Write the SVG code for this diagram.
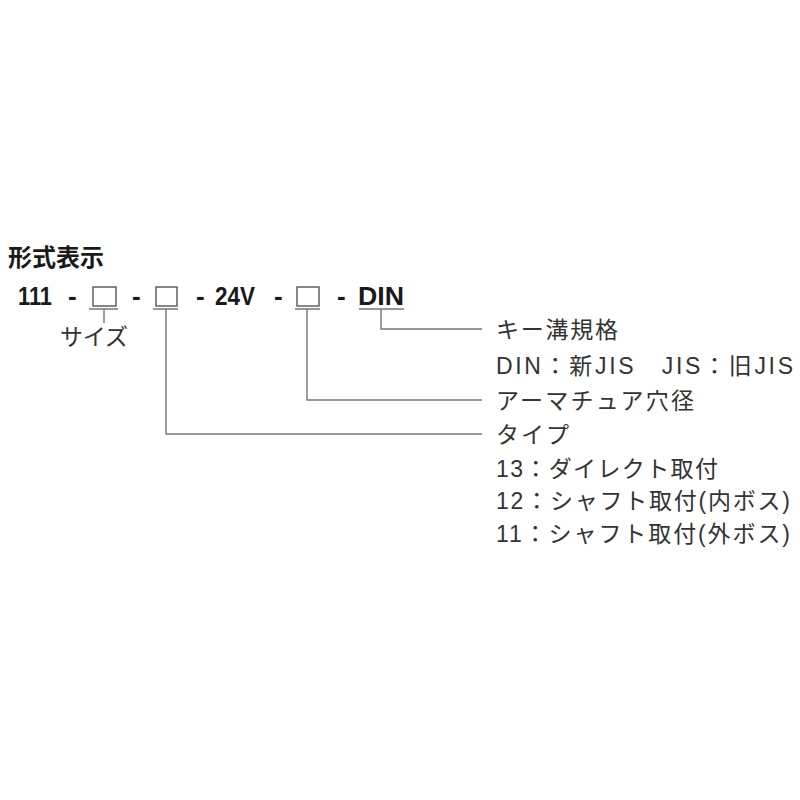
<svg xmlns="http://www.w3.org/2000/svg" width="800" height="800" viewBox="0 0 800 800">
<style>
.hd{font-family:"Liberation Sans","Noto Sans CJK JP",sans-serif;font-weight:bold;fill:#1a1a1a}
.code{font-family:"Liberation Sans","Noto Sans CJK JP",sans-serif;font-weight:bold;font-size:26px;fill:#1a1a1a}
.lbl{font-family:"Liberation Sans","Noto Sans CJK JP",sans-serif;font-size:23px;fill:#333}
.box{fill:#fff;stroke:#555;stroke-width:1.4}
.ln{fill:none;stroke:#777;stroke-width:1.4}
</style>
<rect width="800" height="800" fill="#fff"/>
<g id="title"><text class="hd" x="8" y="266" font-size="24">形式表示</text></g>
<g id="code">
<text class="code" x="18" y="305" textLength="34" lengthAdjust="spacingAndGlyphs">111</text>
<text class="code" x="68" y="305">-</text>
<text class="code" x="132" y="305">-</text>
<text class="code" x="196" y="305">-</text>
<text class="code" x="215" y="305" textLength="40" lengthAdjust="spacingAndGlyphs">24V</text>
<text class="code" x="274" y="305">-</text>
<text class="code" x="337" y="305">-</text>
<text class="code" x="358" y="305" textLength="46" lengthAdjust="spacingAndGlyphs">DIN</text>
</g>
<g id="box-size"><rect class="box" x="93" y="287" width="23" height="19"/></g>
<g id="box-type"><rect class="box" x="156" y="287" width="21" height="19"/></g>
<g id="box-armature"><rect class="box" x="297" y="287" width="22" height="19"/></g>
<g id="connectors">
<path class="ln" d="M89 309H118M104 309V323"/>
<path class="ln" d="M153 309H178M166 309V434H482"/>
<path class="ln" d="M295 309H320M307 309V400H482"/>
<path class="ln" d="M359 309H404M381 309V329H482"/>
</g>
<g id="label-size"><text class="lbl" x="60" y="345" textLength="68">サイズ</text></g>
<g id="label-key">
<text class="lbl" x="496" y="338" textLength="122">キー溝規格</text>
<text class="lbl" x="496" y="374" textLength="297">DIN：新JIS　JIS：旧JIS</text>
</g>
<g id="label-armature"><text class="lbl" x="496" y="409" textLength="198">アーマチュア穴径</text></g>
<g id="label-type">
<text class="lbl" x="496" y="443" textLength="73">タイプ</text>
<text class="lbl" x="496" y="477" textLength="222">13：ダイレクト取付</text>
<text class="lbl" x="496" y="509" textLength="294">12：シャフト取付(内ボス)</text>
<text class="lbl" x="496" y="542" textLength="294">11：シャフト取付(外ボス)</text>
</g>
</svg>
